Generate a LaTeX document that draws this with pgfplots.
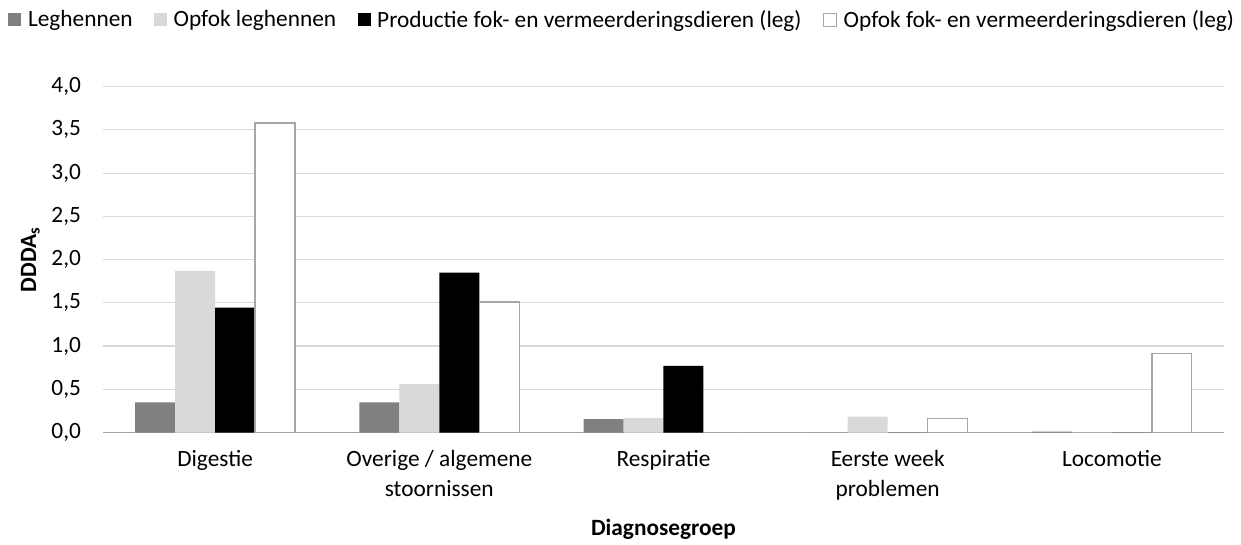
\documentclass[border=0pt]{standalone}
\usepackage{pgfplots}
\pgfplotsset{compat=1.18}
\usepackage{fontspec}
\setmainfont{Carlito}
\definecolor{cLeg}{HTML}{808080}
\definecolor{cOpf}{HTML}{D9D9D9}
\definecolor{cGrid}{HTML}{D9D9D9}
\definecolor{cEdge}{HTML}{A6A6A6}
\begin{document}
\begin{tikzpicture}[font=\fontsize{17.5pt}{22.5pt}\selectfont]
  \begin{axis}[
    scale only axis, width=841pt, height=259.5pt,
    ybar=0pt, bar width=30pt,
    xmin=-0.5, xmax=4.5, ymin=0, ymax=4,
    ytick={0,0.5,...,4},
    xtick={0,1,2,3,4},
    xticklabels={Digestie,{Overige / algemene\\stoornissen},Respiratie,{Eerste week\\problemen},Locomotie},
    xticklabel style={align=center, yshift=-10pt},
    major tick length=0pt,
    axis x line=bottom, axis y line=left,
    x axis line style={cEdge, -},
    y axis line style={draw=none},
    ymajorgrids, grid style={cGrid, line width=0.9pt},
    yticklabel style={xshift=-13pt, /pgf/number format/.cd, use comma, fixed, fixed zerofill, precision=1, /pgf/number format/assume math mode=true},
    ylabel={\textbf{DDDA\textsubscript{s}}}, ylabel style={yshift=2pt},
    xlabel={\textbf{Diagnosegroep}},
    xlabel style={at={(axis description cs:0.5,-0.28)}, anchor=center},
    legend style={draw=none, at={(-0.0847,1.193)}, anchor=west, legend columns=4,
      /tikz/every odd column/.append style={column sep=3pt},
      /tikz/every even column/.append style={column sep=14pt}, inner sep=0pt},
    legend image code/.code={\path[#1] (0pt,-4.9pt) rectangle (9.8pt,4.9pt);},
  ]
    \addplot[fill=cLeg, draw=none] coordinates {(0,0.35)(1,0.35)(2,0.155)(3,0)(4,0.01)};
    \addplot[fill=cOpf, draw=none] coordinates {(0,1.87)(1,0.56)(2,0.17)(3,0.185)(4,0)};
    \addplot[fill=black, draw=none] coordinates {(0,1.445)(1,1.85)(2,0.77)(3,0)(4,0)};
    \addplot[fill=white, draw=cEdge, line width=0.9pt] coordinates {(0,3.58)(1,1.51)(2,0)(3,0.165)(4,0.91)};
    \legend{Leghennen, Opfok leghennen, Productie fok- en vermeerderingsdieren (leg), Opfok fok- en vermeerderingsdieren (leg)}
  \end{axis}
  \path ([xshift=-77.25pt,yshift=65pt]current axis.north west)
        ([xshift=12.75pt,yshift=-80.5pt]current axis.south east);
\end{tikzpicture}
\end{document}
